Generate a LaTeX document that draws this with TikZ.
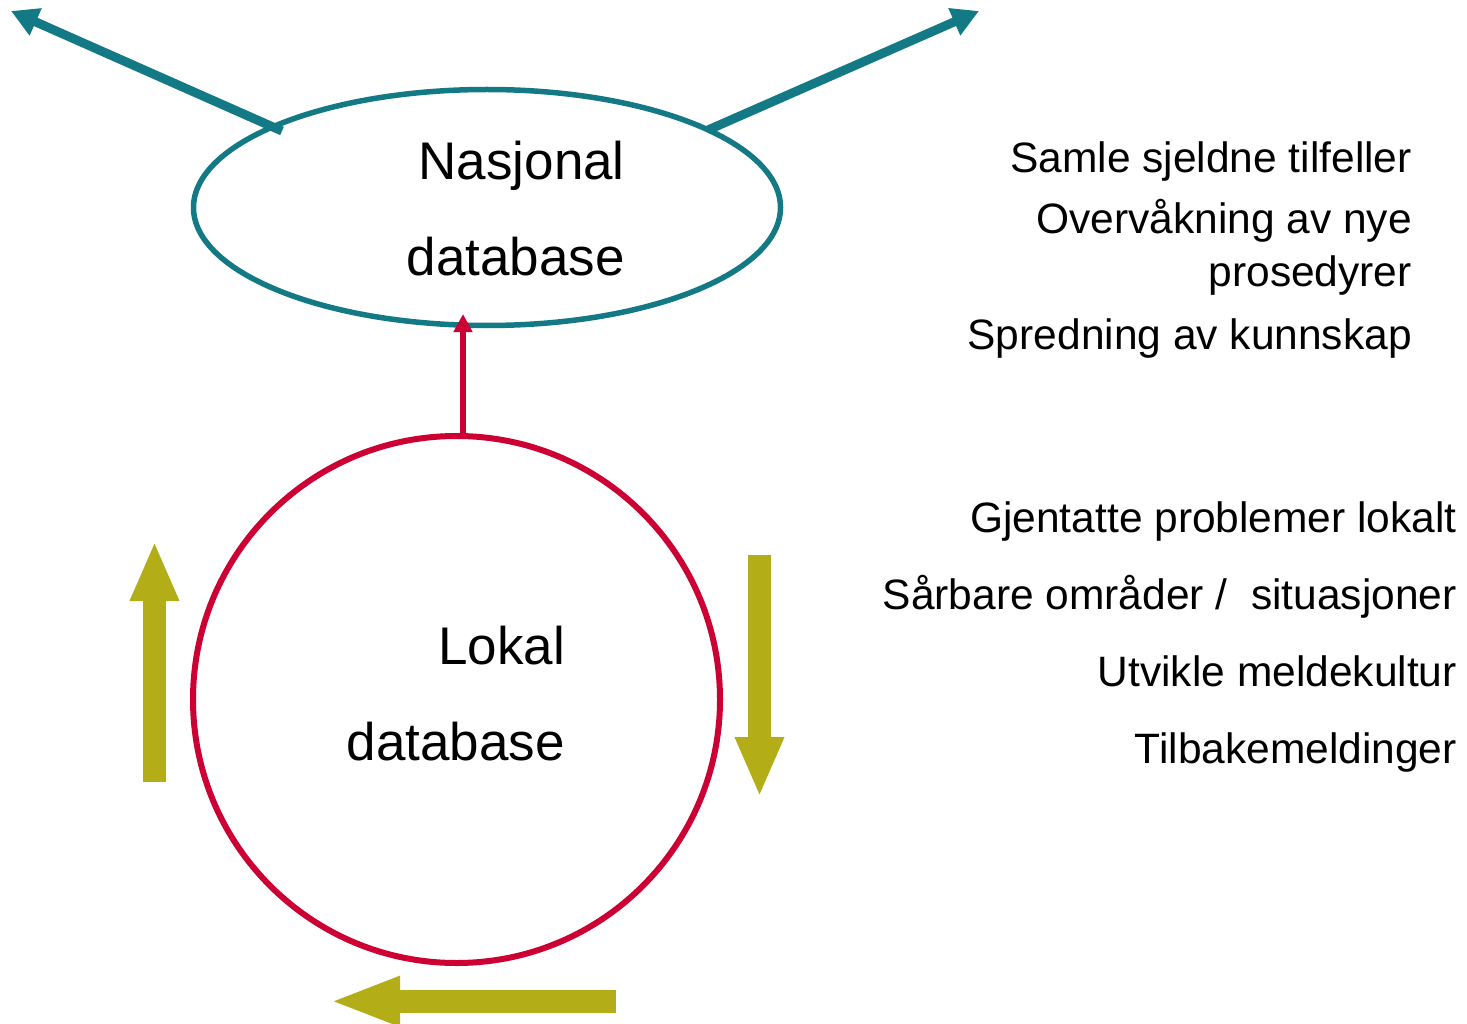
\documentclass[tikz,border=0pt]{standalone}
\usepackage{fontspec}
\setmainfont{Liberation Sans}
\usetikzlibrary{arrows.meta}
\usetikzlibrary{shapes.geometric}
\definecolor{tealblue}{RGB}{19,121,133}
\definecolor{crimsonred}{RGB}{204,0,51}
\definecolor{oliveyellow}{RGB}{179,174,24}

\begin{document}
\begin{tikzpicture}[x=1pt,y=-1pt,
      big label/.style={font=\fontsize{53}{96}\selectfont,align=right,anchor=base east,inner sep=0pt},
      side label/.style={font=\fontsize{42.5}{53}\selectfont,align=right,anchor=base east,inner sep=0pt},
      teal arrow/.style={draw=tealblue,line width=9pt,-{Triangle[length=27pt,width=28pt]}},
      block arrow/.style={draw=oliveyellow,line width=22.5pt,-{Triangle[length=60pt,width=45pt]}}]
    \useasboundingbox (0,0) rectangle (1467,1024);
    % the two databases
    \node[draw=tealblue,line width=5.5pt,ellipse,minimum width=587pt,minimum height=236pt] (nasjonal) at (487,207.5) {};
    \node[draw=crimsonred,line width=6pt,circle,minimum size=527pt] (lokal) at (456.5,699.5) {};
    \node[big label] (nasjonaltxt) at (625,276) {Nasjonal\\database};
    \node[big label] (lokaltxt) at (565,760) {Lokal\\database};
    % arrows out of the national base
    \coordinate (nwfoot) at (282,131);
    \coordinate (nwtip) at (11,11);
    \coordinate (nefoot) at (708,130);
    \coordinate (netip) at (979,11);
    \draw[teal arrow] (nwfoot) -- (nwtip);
    \draw[teal arrow] (nefoot) -- (netip);
    \coordinate (redtip) at (463,314);
    \draw[crimsonred,line width=6pt,-{Triangle[length=18pt,width=18pt]}] (lokal.north -| redtip) -- (redtip);
    % the local loop
    \coordinate (upfoot) at (154.5,782);
    \coordinate (uptip) at (154.5,541);
    \coordinate (downfoot) at (759.5,555);
    \coordinate (downtip) at (759.5,797);
    \coordinate (leftfoot) at (616,1001.3);
    \coordinate (lefttip) at (329,1001.3);
    \draw[block arrow] (upfoot) -- (uptip);
    \draw[block arrow] (downfoot) -- (downtip);
    \draw[block arrow,-{Triangle[length=71pt,width=45pt]}] (leftfoot) -- (lefttip);
    % texts on the right
    \node[side label] (samle) at (1412,173) {Samle sjeldne tilfeller};
    \node[side label] (overvak) at (1412,287) {Overvåkning av nye\\prosedyrer};
    \node[side label] (spredning) at (1412,349) {Spredning av kunnskap};
    \node[side label] (gjentatte) at (1457,532) {Gjentatte problemer lokalt};
    \node[side label] (saarbare) at (1457,609) {Sårbare områder /\ \ situasjoner};
    \node[side label] (utvikle) at (1457,686) {Utvikle meldekultur};
    \node[side label] (tilbake) at (1457,763) {Tilbakemeldinger};
  \end{tikzpicture}
\end{document}
